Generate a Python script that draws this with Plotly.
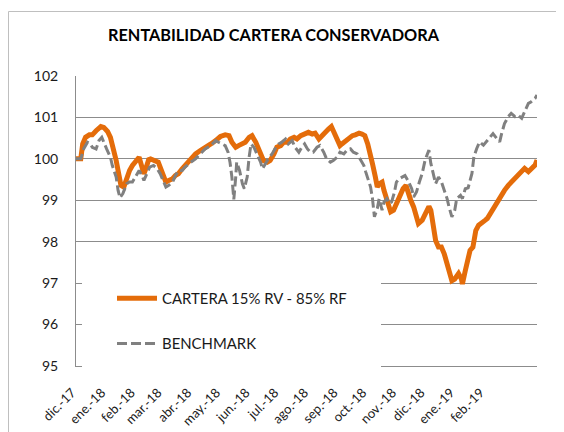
import plotly.graph_objects as go

TITLE = "RENTABILIDAD CARTERA CONSERVADORA"
NAME_CARTERA = "CARTERA 15% RV - 85% RF"
NAME_BENCH = "BENCHMARK"

TICK_DATES = ["2017-12-01", "2018-01-01", "2018-02-01", "2018-03-01", "2018-04-01",
              "2018-05-01", "2018-06-01", "2018-07-01", "2018-08-01", "2018-09-01",
              "2018-10-01", "2018-11-01", "2018-12-01", "2019-01-01", "2019-02-01"]
TICK_LABELS = ["dic.-17", "ene.-18", "feb.-18", "mar.-18", "abr.-18", "may.-18",
               "jun.-18", "jul.-18", "ago.-18", "sep.-18", "oct.-18", "nov.-18",
               "dic.-18", "ene.-19", "feb.-19"]
Y_TICKS = [95, 96, 97, 98, 99, 100, 101, 102]

CARTERA_DATES = [
    "2017-12-01", "2017-12-06", "2017-12-08", "2017-12-11", "2017-12-15", "2017-12-18", "2017-12-22", "2017-12-27", "2017-12-30",
    "2018-01-03", "2018-01-06", "2018-01-09", "2018-01-12", "2018-01-15", "2018-01-17", "2018-01-20", "2018-01-23", "2018-01-26", "2018-01-29",
    "2018-02-02", "2018-02-05", "2018-02-07", "2018-02-10", "2018-02-12", "2018-02-15", "2018-02-17", "2018-02-21", "2018-02-25", "2018-02-27",
    "2018-03-03", "2018-03-05", "2018-03-08", "2018-03-12", "2018-03-15", "2018-03-18", "2018-03-22", "2018-03-25", "2018-03-30",
    "2018-04-05", "2018-04-10", "2018-04-15", "2018-04-21", "2018-04-26",
    "2018-05-01", "2018-05-06", "2018-05-10", "2018-05-13", "2018-05-17", "2018-05-20", "2018-05-24", "2018-05-27", "2018-05-31",
    "2018-06-03", "2018-06-07", "2018-06-10", "2018-06-13", "2018-06-15", "2018-06-19", "2018-06-22", "2018-06-26", "2018-06-29",
    "2018-07-03", "2018-07-06", "2018-07-10", "2018-07-13", "2018-07-17", "2018-07-20", "2018-07-24", "2018-07-28",
    "2018-08-01", "2018-08-05", "2018-08-08", "2018-08-12", "2018-08-15", "2018-08-19", "2018-08-22", "2018-08-25", "2018-08-27", "2018-08-31",
    "2018-09-03", "2018-09-05", "2018-09-09", "2018-09-12", "2018-09-16", "2018-09-19", "2018-09-23", "2018-09-26", "2018-09-29",
    "2018-10-02", "2018-10-05", "2018-10-07", "2018-10-10", "2018-10-12", "2018-10-14", "2018-10-17", "2018-10-19", "2018-10-21", "2018-10-24", "2018-10-26", "2018-10-29",
    "2018-11-01", "2018-11-05", "2018-11-08", "2018-11-11", "2018-11-13", "2018-11-16", "2018-11-19", "2018-11-22", "2018-11-24", "2018-11-28",
    "2018-12-01", "2018-12-05", "2018-12-07", "2018-12-10", "2018-12-12", "2018-12-15", "2018-12-18", "2018-12-21", "2018-12-24", "2018-12-26", "2018-12-29",
    "2019-01-01", "2019-01-05", "2019-01-08", "2019-01-09", "2019-01-12", "2019-01-15", "2019-01-17", "2019-01-20", "2019-01-23", "2019-01-26", "2019-01-29",
    "2019-02-02", "2019-02-04", "2019-02-07", "2019-02-10", "2019-02-13", "2019-02-15", "2019-02-19", "2019-02-22", "2019-02-26",
    "2019-03-01", "2019-03-05", "2019-03-08", "2019-03-12", "2019-03-15", "2019-03-19", "2019-03-22", "2019-03-26", "2019-03-28",
]
CARTERA_VALUES = [
    100.0, 100.0, 100.36, 100.52, 100.58, 100.58, 100.68, 100.78, 100.76,
    100.66, 100.52, 100.28, 99.96, 99.6, 99.36, 99.32, 99.56, 99.72, 99.84,
    99.96, 100.04, 99.88, 99.64, 99.76, 99.98, 100.0, 99.96, 99.92, 99.8,
    99.56, 99.44, 99.48, 99.52, 99.6, 99.64, 99.76, 99.84, 99.96,
    100.12, 100.2, 100.26, 100.36, 100.44,
    100.54, 100.58, 100.56, 100.4, 100.28, 100.32, 100.36, 100.4, 100.52,
    100.56, 100.4, 100.24, 100.04, 99.96, 99.92, 99.96, 100.12, 100.28,
    100.32, 100.4, 100.4, 100.48, 100.52, 100.48, 100.56, 100.6,
    100.64, 100.6, 100.62, 100.48, 100.56, 100.64, 100.72, 100.78, 100.68, 100.52,
    100.32, 100.36, 100.44, 100.48, 100.56, 100.58, 100.62, 100.6, 100.56,
    100.36, 100.12, 99.88, 99.56, 99.32, 99.4, 99.44, 99.24, 99.08, 98.84, 98.72, 98.76,
    98.92, 99.08, 99.28, 99.36, 99.2, 99.0, 98.84, 98.6, 98.44, 98.52,
    98.68, 98.85, 98.76, 98.35, 98.03, 97.87, 97.87, 97.71, 97.47, 97.23, 97.06,
    97.1, 97.23, 97.1, 96.98, 97.3, 97.63, 97.79, 97.87, 98.27, 98.4, 98.44,
    98.52, 98.56, 98.68, 98.8, 98.88, 99.0, 99.12, 99.24, 99.36,
    99.44, 99.52, 99.6, 99.69, 99.77, 99.69, 99.77, 99.85, 99.97,
]

BENCH_DATES = [
    "2017-12-01", "2017-12-06", "2017-12-09", "2017-12-13", "2017-12-16", "2017-12-18", "2017-12-22", "2017-12-25", "2017-12-28", "2017-12-30",
    "2018-01-02", "2018-01-06", "2018-01-08", "2018-01-12", "2018-01-14", "2018-01-16", "2018-01-19", "2018-01-23", "2018-01-26", "2018-01-29",
    "2018-02-02", "2018-02-05", "2018-02-08", "2018-02-10", "2018-02-13", "2018-02-16", "2018-02-20", "2018-02-24", "2018-02-27",
    "2018-03-03", "2018-03-05", "2018-03-08", "2018-03-12", "2018-03-15", "2018-03-18", "2018-03-22", "2018-03-25", "2018-03-30",
    "2018-04-05", "2018-04-10", "2018-04-15", "2018-04-21", "2018-04-26", "2018-04-29",
    "2018-05-03", "2018-05-06", "2018-05-09", "2018-05-11", "2018-05-13", "2018-05-15", "2018-05-17", "2018-05-18", "2018-05-21", "2018-05-24", "2018-05-26", "2018-05-29", "2018-05-31",
    "2018-06-02", "2018-06-05", "2018-06-08", "2018-06-12", "2018-06-14", "2018-06-17", "2018-06-20", "2018-06-24", "2018-06-27",
    "2018-07-01", "2018-07-04", "2018-07-08", "2018-07-11", "2018-07-15", "2018-07-18", "2018-07-22", "2018-07-25", "2018-07-28", "2018-07-31",
    "2018-08-03", "2018-08-06", "2018-08-10", "2018-08-13", "2018-08-17", "2018-08-20", "2018-08-24", "2018-08-27", "2018-08-31",
    "2018-09-03", "2018-09-07", "2018-09-10", "2018-09-14", "2018-09-17", "2018-09-21", "2018-09-24", "2018-09-28", "2018-09-30",
    "2018-10-03", "2018-10-05", "2018-10-07", "2018-10-09", "2018-10-12", "2018-10-14", "2018-10-17", "2018-10-19", "2018-10-22", "2018-10-25", "2018-10-27", "2018-10-30",
    "2018-11-01", "2018-11-04", "2018-11-07", "2018-11-10", "2018-11-13", "2018-11-17", "2018-11-19", "2018-11-22", "2018-11-25", "2018-11-28",
    "2018-12-01", "2018-12-05", "2018-12-07", "2018-12-10", "2018-12-12", "2018-12-15", "2018-12-18", "2018-12-21", "2018-12-24", "2018-12-26", "2018-12-29",
    "2019-01-01", "2019-01-03", "2019-01-07", "2019-01-09", "2019-01-12", "2019-01-15", "2019-01-19", "2019-01-21", "2019-01-24", "2019-01-27", "2019-01-31",
    "2019-02-03", "2019-02-07", "2019-02-10", "2019-02-14", "2019-02-17", "2019-02-19", "2019-02-22", "2019-02-26",
    "2019-03-01", "2019-03-05", "2019-03-08", "2019-03-12", "2019-03-15", "2019-03-19", "2019-03-22", "2019-03-26", "2019-03-28",
]
BENCH_VALUES = [
    100.0, 100.0, 100.24, 100.4, 100.36, 100.28, 100.24, 100.44, 100.52, 100.4,
    100.24, 100.04, 99.84, 99.56, 99.24, 99.06, 99.16, 99.4, 99.44, 99.44,
    99.6, 99.72, 99.6, 99.48, 99.64, 99.8, 99.84, 99.76, 99.64,
    99.44, 99.32, 99.36, 99.44, 99.6, 99.72, 99.72, 99.8, 99.9,
    100.0, 100.12, 100.24, 100.32, 100.44, 100.4,
    100.36, 100.32, 100.16, 99.92, 99.56, 99.02, 99.56, 99.92, 99.72, 99.4, 99.28, 99.56, 100.04,
    100.36, 100.28, 100.12, 99.92, 99.76, 99.88, 100.0, 100.12, 100.24,
    100.36, 100.4, 100.48, 100.36, 100.44, 100.28, 100.16, 100.28, 100.36, 100.24,
    100.16, 100.16, 100.28, 100.32, 100.16, 100.0, 99.92, 99.96, 100.04,
    100.16, 100.12, 100.2, 100.24, 100.16, 100.12, 100.0, 99.84, 99.68,
    99.48, 99.32, 99.04, 98.6, 98.8, 99.04, 98.76, 98.96, 99.04, 98.92, 98.96, 99.2,
    99.44, 99.52, 99.56, 99.6, 99.48, 99.28, 99.08, 99.2, 99.44, 99.65,
    99.97, 100.21, 99.89, 99.56, 99.4, 99.56, 99.45, 99.24, 99.04, 98.84, 98.6,
    98.76, 99.04, 99.12, 99.04, 99.28, 99.3, 99.65, 100.05, 100.25, 100.41, 100.33,
    100.41, 100.53, 100.61, 100.49, 100.41, 100.61, 100.85, 101.02,
    101.1, 101.02, 101.06, 100.98, 101.14, 101.34, 101.38, 101.46, 101.54,
]

X_RANGE = ["2017-12-01", "2019-03-28"]
Y_RANGE = [95, 102]

ORANGE = "#E46C0A"
GREY = "#808080"
GRID = "#8C8C8C"
FONT = "Lato"

# The page body has an 8px margin; the figure is sized so it ends at the window edge.
OFF = 8
WIN_W, WIN_H = 564, 432
W, H = WIN_W - OFF, WIN_H - OFF
# plot area in window pixels: x 76..537, y 76..366
ML, MR, MT, MB = 76 - OFF, WIN_W - 537, 76 - OFF, WIN_H - 366
PW, PH = W - ML - MR, H - MT - MB


def fx(px):
    """window pixel x -> paper x"""
    return (px - OFF - ML) / PW


def fy(py):
    """window pixel y -> paper y"""
    return (H - MB - (py - OFF)) / PH


fig = go.Figure()
fig.add_trace(go.Scatter(
    x=CARTERA_DATES, y=CARTERA_VALUES, mode="lines", name=NAME_CARTERA,
    legendgroup="a", line=dict(color=ORANGE, width=5, shape="linear"),
))
fig.add_trace(go.Scatter(
    x=BENCH_DATES, y=BENCH_VALUES, mode="lines", name=NAME_BENCH,
    legendgroup="b", line=dict(color=GREY, width=3, dash="10px,4px"),
))

BORDER = dict(color="#BFBFBF", width=1)

fig.update_layout(
    width=W, height=H,
    margin=dict(l=ML, r=MR, t=MT, b=MB, pad=0, autoexpand=False),
    paper_bgcolor="white", plot_bgcolor="white",
    font=dict(family=FONT, color="#1a1a1a"),
    title=dict(text="<b>" + TITLE + "</b>", x=(273.5 - OFF) / W, xref="container", xanchor="center",
               y=1 - (35 - OFF) / H, yref="container", yanchor="middle",
               font=dict(family=FONT, size=16.3, color="black")),
    showlegend=True,
    legend=dict(x=fx(112), y=fy(282), xanchor="left", yanchor="top",
                bgcolor="rgba(0,0,0,0)", borderwidth=0, itemwidth=40,
                font=dict(family=FONT, size=14.9, color="#1a1a1a"),
                tracegroupgap=23, traceorder="grouped"),
    xaxis=dict(type="date", range=X_RANGE, tickvals=TICK_DATES, ticktext=TICK_LABELS,
               tickangle=-45, showgrid=False, zeroline=False, automargin=False,
               showline=True, linecolor=GRID, linewidth=1, ticks="",
               tickfont=dict(family=FONT, size=13, color="#1a1a1a"),
               ticklabelstandoff=13, ticklabelshift=-4),
    yaxis=dict(range=Y_RANGE, tickvals=Y_TICKS, showgrid=True, gridcolor=GRID, gridwidth=1,
               zeroline=False, showline=True, linecolor=GRID, linewidth=1, ticks="",
               automargin=False,
               tickfont=dict(family=FONT, size=14, color="#1a1a1a"),
               ticklabelstandoff=14),
    shapes=[
        # chart-area border: only the top and left edges fall inside the window
        dict(type="line", xref="paper", yref="paper", x0=fx(8.5), x1=fx(640), y0=fy(11.5), y1=fy(11.5),
             line=BORDER, layer="above"),
        dict(type="line", xref="paper", yref="paper", x0=fx(8.5), x1=fx(8.5), y0=fy(11.5), y1=fy(500),
             line=BORDER, layer="above"),
        # white legend box hiding the gridlines behind the legend
        dict(type="rect", xref="paper", yref="paper", x0=fx(82), x1=fx(381), y0=fy(370), y1=fy(268),
             line=dict(width=0), fillcolor="white", layer="above"),
    ],
)

fig.write_html("out.html")
